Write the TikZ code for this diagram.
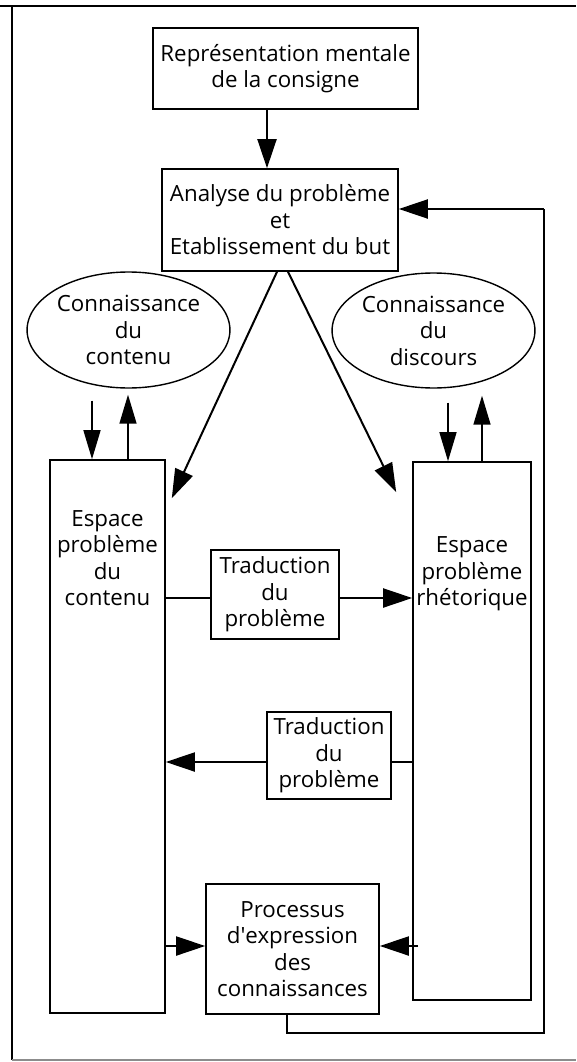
\documentclass[tikz,border=0pt]{standalone}
\usepackage{fontspec}
\setmainfont{Open Sans}
\usetikzlibrary{arrows.meta,shapes.geometric,calc}
\begin{document}
\begin{tikzpicture}[x=1pt,y=-1pt,
  every node/.style={font=\fontsize{22.3}{26.5}\selectfont, align=center, inner sep=0pt, text=black},
  box/.style={draw, line width=1.6pt, minimum width=#1},
  oval/.style={draw, ellipse, line width=1.4pt},
  conn/.style={line width=1.5pt},
  arr/.style={line width=2pt, -{Triangle[length=29pt,width=19pt]}},
  thinarr/.style={line width=1.5pt, -{Triangle[length=29pt,width=17pt]}},
  frame/.style={line width=1.1pt}]
\useasboundingbox (0,0) rectangle (576,1062);
% frame
\draw[frame] (0,6) -- (576,6);
\draw[frame] (12,6) -- (12,1060);
\draw[frame, black!45] (12,1060) -- (576,1060);
% nodes
\node[box=265pt, minimum height=81pt] (r1) at (285.5,68.5) {Représentation mentale\\de la consigne};
\node[box=236pt, minimum height=102pt] (r2) at (280,220) {Analyse du problème\\et\\Etablissement du but};
\node[oval, minimum width=183pt, minimum height=116pt] (e1) at (128.5,330) {Connaissance\\du\\contenu};
\node[oval, minimum width=185pt, minimum height=115pt] (e2) at (433.5,330.5) {Connaissance\\du\\discours};
\node[box=115pt, minimum height=553pt] (L) at (107.5,736.5) {};
\node (Lt) at (107.5,558) {Espace\\problème\\du\\contenu};
\node[box=118pt, minimum height=538pt] (R) at (472,731) {};
\node (Rt) at (472,574) {Espace\\problème\\rhétorique};
\node[box=128pt, minimum height=89pt] (t1) at (275,594.5) {Traduction\\du\\problème};
\node[box=124pt, minimum height=87pt] (t2) at (329,755.5) {Traduction\\du\\problème};
\node[box=173pt, minimum height=130pt] (p) at (292.5,949) {Processus\\d\textquotesingle expression\\des\\connaissances};
% coordinates
\coordinate (fb1) at (544,1033);
\coordinate (fb2) at (544,209);
% connectors
\draw[arr] (r1.south -| 267,0) -- (r2.north -| 267,0);
\draw[arr] ($(r2.south)+(-3,0)$) -- ($(L.north east)+(6,39)$);
\draw[arr] ($(r2.south)+(8,0)$) -- ($(R.north west)+(-16,31)$);
\draw[thinarr] ($(e1.south)+(-36.5,12)$) -- (L.north -| 92,0);
\draw[thinarr] (L.north -| 128,0) -- ($(e1.south)+(-0.5,6)$);
\draw[thinarr] ($(e2.south)+(14.5,14)$) -- (R.north -| 448,0);
\draw[thinarr] (R.north -| 482,0) -- ($(e2.south)+(48.5,7)$);
\draw[conn] (L.east |- 0,598) -- (t1.west |- 0,598);
\draw[arr] (t1.east |- 0,598) -- (R.west |- 0,598);
\draw[conn] (R.west |- 0,762) -- (t2.east |- 0,762);
\draw[arr] (t2.west |- 0,762) -- (L.east |- 0,762);
\draw[arr] (L.east |- 0,946) -- (p.west |- 0,946);
\draw[arr] ($(R.west |- 0,946)+(6,0)$) -- (p.east |- 0,946);
\draw[conn] (p.south -| 287,0) -- (287,1033) -- (fb1) -- (fb2);
\draw[arr] (fb2) -- (r2.east |- fb2);
\end{tikzpicture}
\end{document}
